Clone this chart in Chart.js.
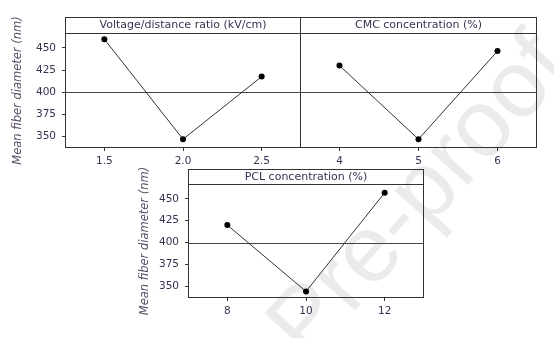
<!DOCTYPE html>
<html>
<head>
<meta charset="utf-8">
<script src="https://cdn.jsdelivr.net/npm/chart.js@4.4.1/dist/chart.umd.min.js"></script>
<style>
  html, body { margin: 0; padding: 0; background: #fff; }
  #wrap { position: relative; width: 554px; height: 338px; overflow: hidden; }
  canvas { position: absolute; }
</style>
</head>
<body>
<div id="wrap">
  <canvas id="mark" width="554" height="338" style="left:0;top:0"></canvas>
  <canvas id="cVolt" width="305" height="170" style="left:0;top:0"></canvas>
  <canvas id="cCmc" width="245" height="170" style="left:296px;top:0"></canvas>
  <canvas id="cPcl" width="298" height="170" style="left:130px;top:150px"></canvas>
</div>
<script>
// values
const voltRatio = [1.5, 2.0, 2.5];
const voltLabels = ['1.5', '2.0', '2.5'];
const voltDiameter = [460, 346.5, 417.5];

const cmcConc = [4, 5, 6];
const cmcLabels = ['4', '5', '6'];
const cmcDiameter = [430, 346.5, 446.5];

const pclConc = [8, 10, 12];
const pclLabels = ['8', '10', '12'];
const pclDiameter = [420, 344, 457];

const yTicks = [350, 375, 400, 425, 450];
const refLine = 400;
const yMin = 336.5, yMax = 467;

const lineCol = '#333333';
const textCol = '#3b3050';

// header strip, panel frame and the 400 line
const panelPlugin = {
    id: 'panel',
    beforeDatasetsDraw(chart, args, opts) {
        const ctx = chart.ctx, a = chart.chartArea;
        const y = Math.round(chart.scales.y.getPixelForValue(opts.ref)) + 0.5;
        ctx.save();
        ctx.strokeStyle = '#444';
        ctx.lineWidth = 1;
        ctx.beginPath();
        ctx.moveTo(a.left, y);
        ctx.lineTo(a.right, y);
        ctx.stroke();
        ctx.restore();
    },
    afterDraw(chart, args, opts) {
        const ctx = chart.ctx, a = chart.chartArea;
        const l = Math.round(a.left) + 0.5, r = Math.round(a.right) - 0.5;
        const t = Math.round(a.top - opts.height) + 0.5, b = Math.round(a.bottom) - 0.5;
        ctx.save();
        ctx.strokeStyle = lineCol;
        ctx.lineWidth = 1;
        ctx.strokeRect(l, t, r - l, b - t);
        ctx.beginPath();
        ctx.moveTo(l, Math.round(a.top) + 0.5);
        ctx.lineTo(r, Math.round(a.top) + 0.5);
        ctx.stroke();
        ctx.fillStyle = textCol;
        ctx.font = '11px "DejaVu Sans"';
        ctx.textAlign = 'center';
        ctx.textBaseline = 'middle';
        ctx.fillText(opts.text, (a.left + a.right) / 2, a.top - opts.height / 2 + 0.5);
        ctx.restore();
    }
};

function makePanel(id, xs, ys, labels, xMin, xMax, title, cfg) {
    const points = xs.map((x, i) => ({x: x, y: ys[i]}));
    return new Chart(document.getElementById(id), {
        type: 'scatter',
        data: {
            datasets: [{
                data: points,
                showLine: true,
                borderColor: lineCol,
                borderWidth: 1,
                pointRadius: 3,
                pointBackgroundColor: '#000',
                pointBorderColor: '#000',
                pointBorderWidth: 0
            }]
        },
        options: {
            responsive: false,
            animation: false,
            devicePixelRatio: 1,
            layout: {padding: {top: cfg.top, right: 4, left: cfg.left, bottom: 0}},
            plugins: {
                legend: {display: false},
                tooltip: {enabled: false},
                panel: {text: title, height: cfg.header, ref: refLine}
            },
            scales: {
                x: {
                    type: 'linear',
                    min: xMin,
                    max: xMax,
                    afterBuildTicks: s => { s.ticks = xs.map(v => ({value: v})); },
                    afterFit: s => { s.height = 22; },
                    ticks: {
                        autoSkip: false,
                        maxRotation: 0,
                        padding: 4,
                        color: textCol,
                        font: {family: 'DejaVu Sans', size: 10.5},
                        callback: (v, i) => labels[i]
                    },
                    grid: {drawOnChartArea: false, drawTicks: true, tickLength: 3, color: lineCol},
                    border: {display: false}
                },
                y: {
                    type: 'linear',
                    display: cfg.yAxis,
                    min: yMin,
                    max: yMax,
                    afterBuildTicks: s => { s.ticks = yTicks.map(v => ({value: v})); },
                    afterFit: s => { s.width = cfg.yWidth; },
                    ticks: {
                        padding: 6,
                        color: textCol,
                        font: {family: 'DejaVu Sans', size: 10.5}
                    },
                    grid: {drawOnChartArea: false, drawTicks: true, tickLength: 3, color: lineCol},
                    border: {display: false},
                    title: {
                        display: true,
                        text: 'Mean fiber diameter (nm)',
                        color: '#5d5068',
                        font: {family: 'DejaVu Sans', size: 11.5, style: 'italic'},
                        padding: {top: cfg.titlePad, bottom: 0}
                    }
                }
            }
        },
        plugins: [panelPlugin]
    });
}

// watermark behind the panels
(function () {
    const ctx = document.getElementById('mark').getContext('2d');
    ctx.save();
    ctx.translate(421, 198);
    ctx.rotate(-48 * Math.PI / 180);
    ctx.fillStyle = '#ebebeb';
    ctx.font = '95px "Liberation Sans"';
    ctx.textAlign = 'center';
    ctx.textBaseline = 'middle';
    ctx.fillText('Pre-proof', 0, 0);
    ctx.restore();
})();

makePanel('cVolt', voltRatio, voltDiameter, voltLabels, 1.25, 2.75,
    'Voltage/distance ratio (kV/cm)',
    {top: 33, left: 0, header: 16, yAxis: true, yWidth: 65, titlePad: 11.4});
makePanel('cCmc', cmcConc, cmcDiameter, cmcLabels, 3.5, 6.5,
    'CMC concentration (%)',
    {top: 33, left: 4, header: 16, yAxis: false, yWidth: 0, titlePad: 0});
makePanel('cPcl', pclConc, pclDiameter, pclLabels, 7, 13,
    'PCL concentration (%)',
    {top: 34, left: 0, header: 15, yAxis: true, yWidth: 58, titlePad: 8.4});
</script>
</body>
</html>
